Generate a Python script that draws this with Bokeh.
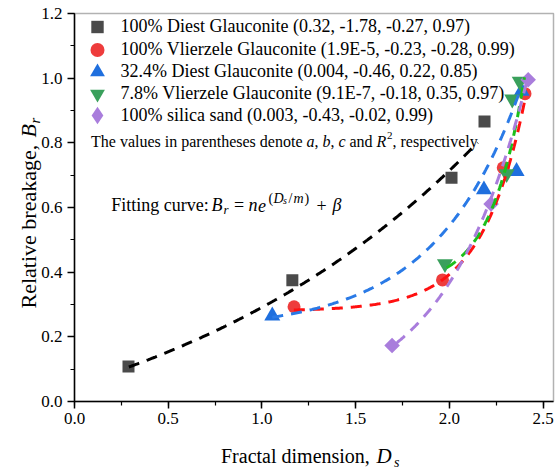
import numpy as np
from bokeh.plotting import figure
from bokeh.models import (Range1d, Label, Legend, LegendItem, BoxAnnotation,
                          SingleIntervalTicker, NumeralTickFormatter)
from bokeh.embed import file_html
from bokeh.resources import INLINE

# ---- measured points: relative breakage vs fractal dimension ----
diest_x = [0.288, 1.162, 2.011, 2.187]
diest_y = [0.108, 0.375, 0.692, 0.866]

vlierzele_x = [1.171, 1.963, 2.287, 2.403]
vlierzele_y = [0.293, 0.376, 0.723, 0.952]

diest32_x = [1.055, 2.184, 2.358, 2.385]
diest32_y = [0.265, 0.655, 0.712, 0.960]

vlierzele78_x = [1.976, 2.305, 2.335, 2.375]
vlierzele78_y = [0.426, 0.704, 0.935, 0.990]

sand_x = [1.694, 2.222, 2.420]
sand_y = [0.173, 0.611, 0.995]

legend_labels = [
    "100% Diest Glauconite (0.32, -1.78, -0.27, 0.97)",
    "100% Vlierzele Glauconite (1.9E-5, -0.23, -0.28, 0.99)",
    "32.4% Diest Glauconite (0.004, -0.46, 0.22, 0.85)",
    "7.8% Vlierzele Glauconite (9.1E-7, -0.18, 0.35, 0.97)",
    "100% silica sand (0.003, -0.43, -0.02, 0.99)",
]

# exponential fits  Br = a * exp(-Ds / b) + c, drawn over each series' span
fit_a = [0.32, 1.9e-5, 0.004, 9.1e-7, 0.0037]
fit_b = [-1.78, -0.23, -0.455, -0.178, -0.43]
fit_c = [-0.27, 0.28, 0.22, 0.35, -0.02]
fit_x0 = [0.29, 1.17, 1.055, 1.985, 1.717]
fit_x1 = [2.15, 2.40, 2.38, 2.40, 2.41]

x_ticks_step = 0.5
y_ticks_step = 0.2

# ---- styling ----
marker_colors = ["#4a4a4a", "#ee3c3c", "#1f6fde", "#3aa05c", "#a97ddc"]
line_colors = ["#000000", "#ff1010", "#2a7ae6", "#1cbf1c", "#a97ddc"]
SERIF = "Liberation Serif"

# canvas and plot-box geometry in pixels; the frame spans the whole canvas
# and the axes are pinned to the data origin so outer titles stay visible
W, H = 556, 471
BOX_L, BOX_R, BOX_T, BOX_B = 74, 553, 13, 401
X_MAX, Y_MAX = 2.555, 1.2
PX_X = (BOX_R - BOX_L) / X_MAX
PX_Y = (BOX_B - BOX_T) / Y_MAX

p = figure(width=W, height=H, output_backend="svg", toolbar_location=None,
           x_range=Range1d(-BOX_L / PX_X, (W - BOX_L) / PX_X),
           y_range=Range1d(-(H - BOX_B) / PX_Y, BOX_B / PX_Y),
           min_border=0)
p.background_fill_color = "white"
p.border_fill_color = "white"
p.outline_line_color = None
p.xgrid.visible = False
p.ygrid.visible = False

p.xaxis.ticker = SingleIntervalTicker(interval=x_ticks_step, num_minor_ticks=2)
p.yaxis.ticker = SingleIntervalTicker(interval=y_ticks_step, num_minor_ticks=2)
p.xaxis.bounds = (0, X_MAX)
p.yaxis.bounds = (0, Y_MAX + 1e-4)
for ax in (p.xaxis, p.yaxis):
    ax.fixed_location = 0
    ax.formatter = NumeralTickFormatter(format="0.0")
    ax.major_tick_in = 0
    ax.major_tick_out = 7
    ax.minor_tick_in = 0
    ax.minor_tick_out = 4
    ax.axis_line_width = 1.5
    ax.major_tick_line_width = 1.5
    ax.minor_tick_line_width = 1.2
    ax.major_label_text_font = SERIF
    ax.major_label_text_font_size = "17px"
    ax.major_label_text_color = "black"
p.xaxis.major_label_standoff = 4
p.yaxis.major_label_standoff = 5

# plot box (top and right edges; bottom/left coincide with the axes)
p.add_layout(BoxAnnotation(left=0, right=X_MAX, bottom=0, top=Y_MAX,
                           fill_alpha=0, line_color="black", line_width=1.5))

# ---- markers ----
r_sq = p.scatter(diest_x, diest_y, marker="square", size=12,
                 fill_color=marker_colors[0], line_color=None)
r_ci = p.scatter(vlierzele_x, vlierzele_y, marker="circle", size=13,
                 fill_color=marker_colors[1], line_color=None)
r_tr = p.scatter(diest32_x, diest32_y, marker="triangle", size=16,
                 fill_color=marker_colors[2], line_color=None)
r_it = p.scatter(vlierzele78_x, vlierzele78_y, marker="inverted_triangle", size=16,
                 fill_color=marker_colors[3], line_color=None)
# silica sand: squares turned 45 degrees
r_di = p.scatter(sand_x, sand_y, marker="square", size=11, angle=np.pi / 4,
                 fill_color=marker_colors[4], line_color=None)
# legend swatch for silica sand (legend keys are drawn unrotated, so use a diamond)
r_di_key = p.scatter([np.nan], [np.nan], marker="diamond", size=16,
                     fill_color=marker_colors[4], line_color=None)

# ---- fitted curves ----
for a, b, c, x0, x1, col in zip(fit_a, fit_b, fit_c, fit_x0, fit_x1, line_colors):
    xs = np.linspace(x0, x1, 200)
    ys = a * np.exp(-xs / b) + c
    p.line(xs, ys, line_color=col, line_width=3, line_dash="11 8")

# ---- legend: one single-row legend per series, rows 22 px apart ----
key_renderers = [r_sq, r_ci, r_tr, r_it, r_di_key]
key_heights = [31, 35, 37, 37, 44]      # legend marker size = 0.4 * box height
row_centers = [26, 49, 71.5, 93.5, 115]
key_x, glyph_w = 96.6, 44
for lab, rend, gh, cy in zip(legend_labels, key_renderers, key_heights, row_centers):
    leg = Legend(items=[LegendItem(label=lab, renderers=[rend])],
                 location=(key_x - glyph_w / 2, H - cy - gh / 2),
                 glyph_width=glyph_w, glyph_height=gh, spacing=0,
                 padding=0, margin=0, label_standoff=2, label_height=20,
                 label_text_font=SERIF, label_text_font_size="18px",
                 label_text_color="black", label_text_baseline="middle",
                 background_fill_alpha=0, border_line_alpha=0)
    p.add_layout(leg, "center")


def put(px, py, text, size, style="normal", angle=0.0):
    """Place a text piece at a pixel position (baseline, left edge)."""
    p.add_layout(Label(x=(px - BOX_L) / PX_X, y=(BOX_B - py) / PX_Y,
                       text=text, text_font=SERIF, text_font_size=f"{size}px",
                       text_font_style=style, text_color="black",
                       text_align="left", text_baseline="alphabetic",
                       angle=angle))


# note under the legend
nb = 141
put(90.5, nb, "The values in parentheses denote", 16)
put(306, nb, "a", 16, "italic")
put(314, nb, ",", 16)
put(322, nb, "b", 16, "italic")
put(330, nb, ",", 16)
put(338, nb, "c", 16, "italic")
put(349, nb, "and", 16)
put(376, nb, "R", 16, "italic")
put(386.5, nb - 6, "2", 11)
put(392, nb, ", respectively", 16)

# fitting equation
fb = 204.5
put(110.7, fb, "Fitting curve:", 18)
put(211, fb, "B", 18, "italic")
put(223, fb + 4, "r", 13, "italic")
put(233.5, fb, "=", 18)
put(248, fb, "n", 18, "italic")
put(257.5, fb, "e", 18, "italic")
put(268.0, fb - 7, "(", 14)
put(273.0, fb - 7, "D", 14, "italic")
put(282.5, fb - 4.5, "s", 10, "italic")
put(288.0, fb - 7, "/", 14)
put(293.0, fb - 7, "m", 14, "italic")
put(304.0, fb - 7, ")", 14)
put(316.0, fb, "+", 18)
put(332.0, fb, "β", 18, "italic")

# axis titles
put(220.5, 455.5, "Fractal dimension,", 20)
put(376, 455.5, "D", 21, "italic")
put(393.5, 462, "s", 14, "italic")

put(28, 308, "Relative breakage,", 22, angle=np.pi / 2)
put(28, 137, "B", 22, angle=np.pi / 2, style="italic")
put(34, 123, "r", 15, angle=np.pi / 2, style="italic")

open("out.html", "w").write(file_html(p, INLINE))
